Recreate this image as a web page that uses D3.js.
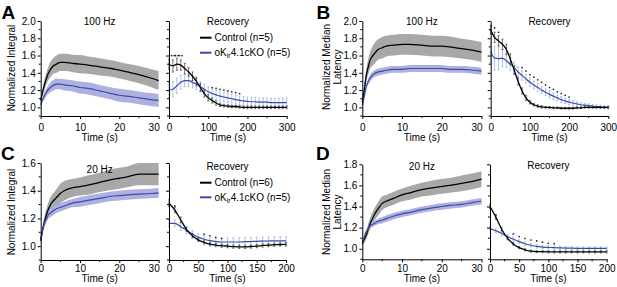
<!DOCTYPE html>
<html><head><meta charset="utf-8">
<script src="https://cdn.jsdelivr.net/npm/d3@7"></script>
<style>
body{margin:0;background:#fff}
svg{display:block}
text{font-family:"Liberation Sans",Arial,Helvetica,sans-serif;fill:#000}
</style>
</head><body>
<svg id="chart" width="617" height="287"></svg>
<script>
// ---------------- DATA ----------------
const stimTime = [0,0.5,1,1.5,2,2.5,3,4,5,6,8,10,12,15,18,20,22,25,28,30];
const rec300 = [0,10,20,30,40,50,60,70,80,90,100,110,120,130,140,150,160,170,180,190,200,210,220,230,240,250,260,270,280,290,300];
const rec200 = [0,10,20,30,40,50,60,70,80,90,100,110,120,130,140,150,160,170,180,190,200];

const seriesNames = ["Control (n=5)", "oKir4.1cKO (n=5)"];
const seriesNamesC = ["Control (n=6)", "oKir4.1cKO (n=5)"];
const panelLetters = ["A","B","C","D"];
const stimTitles = ["100 Hz","100 Hz","20 Hz","20 Hz"];
const recTitle = "Recovery";
const yLabels = [["Normalized Integral"],["Normalized Median","Latency"],["Normalized Integral"],["Normalized Median","Latency"]];
const xLabel = "Time (s)";

// Panel A - 100 Hz integral
const aCtrlMean = [1.08,1.18,1.27,1.34,1.40,1.44,1.47,1.50,1.52,1.52,1.51,1.50,1.49,1.47,1.45,1.43,1.41,1.38,1.34,1.31];
const aCtrlErr  = [0.02,0.04,0.06,0.07,0.08,0.09,0.09,0.10,0.10,0.10,0.10,0.105,0.10,0.10,0.095,0.095,0.095,0.10,0.105,0.11];
const aKoMean   = [1.03,1.09,1.14,1.18,1.21,1.23,1.25,1.27,1.27,1.26,1.25,1.23,1.22,1.19,1.16,1.14,1.13,1.11,1.09,1.08];
const aKoErr    = [0.02,0.03,0.04,0.045,0.05,0.055,0.06,0.06,0.06,0.065,0.065,0.07,0.07,0.07,0.07,0.075,0.075,0.075,0.075,0.075];
const aRecCtrlMean = [1.50,1.48,1.50,1.49,1.45,1.41,1.36,1.30,1.23,1.16,1.11,1.08,1.05,1.03,1.02,1.015,1.01,1.01,1.005,1.0,1.0,1.0,1.0,1.0,1.0,1.0,1.0,1.0,1.0,1.0,1.0];
const aRecCtrlErr  = [0.06,0.07,0.07,0.06,0.06,0.05,0.05,0.05,0.045,0.04,0.035,0.03,0.025,0.02,0.015,0.015,0.015,0.015,0.015,0.015,0.015,0.015,0.015,0.015,0.015,0.015,0.015,0.015,0.015,0.015,0.015];
const aRecKoMean   = [1.20,1.21,1.25,1.29,1.31,1.31,1.29,1.27,1.24,1.21,1.18,1.16,1.145,1.13,1.12,1.11,1.10,1.09,1.08,1.075,1.07,1.065,1.065,1.06,1.06,1.06,1.055,1.055,1.055,1.055,1.055];
const aRecKoErr    = [0.09,0.09,0.09,0.08,0.07,0.07,0.065,0.065,0.06,0.06,0.06,0.06,0.055,0.055,0.055,0.055,0.05,0.05,0.05,0.05,0.05,0.05,0.05,0.05,0.05,0.05,0.05,0.05,0.05,0.05,0.05];
const aSigT = [10,20,30,110,120,130,140,150,160,170,180];
const aSigV = [1.60,1.60,1.60,1.23,1.22,1.21,1.20,1.19,1.18,1.17,1.16];
const aSigN = [2,2,2,1,1,1,1,1,1,1,1];

// Panel B - 100 Hz median latency
const bCtrlMean = [1.06,1.20,1.37,1.47,1.55,1.59,1.62,1.67,1.69,1.71,1.72,1.73,1.73,1.72,1.71,1.71,1.70,1.68,1.66,1.64];
const bCtrlErr  = [0.03,0.05,0.07,0.09,0.10,0.11,0.12,0.12,0.125,0.12,0.12,0.12,0.12,0.12,0.12,0.12,0.12,0.115,0.115,0.115];
const bKoMean   = [1.02,1.13,1.24,1.30,1.34,1.37,1.39,1.41,1.42,1.43,1.44,1.44,1.45,1.45,1.45,1.45,1.44,1.44,1.43,1.42];
const bKoErr    = [0.02,0.025,0.03,0.035,0.04,0.04,0.04,0.04,0.04,0.04,0.04,0.04,0.04,0.04,0.04,0.04,0.04,0.04,0.04,0.04];
const bRecCtrlMean = [1.90,1.81,1.77,1.73,1.67,1.56,1.43,1.30,1.19,1.11,1.06,1.03,1.015,1.005,1.0,1.0,0.995,0.995,0.99,0.99,0.99,0.99,0.995,0.995,1.0,1.0,1.0,1.0,1.0,1.0,1.0];
const bRecCtrlErr  = [0.05,0.06,0.06,0.06,0.06,0.06,0.05,0.04,0.035,0.03,0.02,0.015,0.015,0.015,0.01,0.01,0.01,0.01,0.01,0.01,0.01,0.01,0.01,0.01,0.01,0.01,0.01,0.01,0.01,0.01,0.01];
const bRecKoMean   = [1.64,1.57,1.565,1.57,1.54,1.50,1.46,1.41,1.37,1.33,1.29,1.26,1.23,1.20,1.175,1.15,1.13,1.11,1.09,1.075,1.06,1.05,1.04,1.03,1.025,1.02,1.015,1.01,1.005,1.0,1.0];
const bRecKoErr    = [0.12,0.14,0.13,0.10,0.08,0.07,0.065,0.06,0.055,0.05,0.05,0.045,0.045,0.04,0.04,0.04,0.035,0.035,0.035,0.03,0.03,0.03,0.025,0.025,0.02,0.02,0.02,0.02,0.02,0.02,0.02];
const bSigT = [10,20,80,90,100,110,120,130,140,150,160,170,180,190,200];
const bSigV = [1.92,1.87,1.46,1.42,1.38,1.35,1.32,1.29,1.26,1.23,1.21,1.18,1.16,1.14,1.12];
const bSigN = [1,1,1,1,1,1,1,1,1,1,1,1,1,1,1];

// Panel C - 20 Hz integral
const cCtrlMean = [1.04,1.12,1.18,1.23,1.27,1.30,1.32,1.35,1.38,1.40,1.42,1.43,1.44,1.46,1.48,1.49,1.50,1.52,1.52,1.52];
const cCtrlErr  = [0.02,0.03,0.04,0.045,0.05,0.055,0.055,0.06,0.07,0.07,0.065,0.065,0.07,0.07,0.075,0.075,0.075,0.08,0.08,0.08];
const cKoMean   = [1.04,1.12,1.17,1.20,1.23,1.24,1.25,1.27,1.28,1.29,1.31,1.32,1.33,1.345,1.36,1.365,1.37,1.375,1.38,1.385];
const cKoErr    = [0.015,0.02,0.025,0.025,0.03,0.03,0.03,0.03,0.03,0.03,0.03,0.035,0.035,0.035,0.035,0.035,0.035,0.035,0.035,0.035];
const cRecCtrlMean = [1.31,1.26,1.19,1.12,1.075,1.045,1.027,1.015,1.008,1.003,1.0,0.997,0.995,0.995,0.997,1.0,1.005,1.008,1.01,1.012,1.013];
const cRecCtrlErr  = [0.025,0.02,0.02,0.015,0.015,0.012,0.012,0.012,0.012,0.012,0.012,0.012,0.012,0.012,0.012,0.012,0.012,0.012,0.012,0.012,0.012];
const cRecKoMean   = [1.165,1.165,1.14,1.115,1.087,1.065,1.05,1.04,1.033,1.03,1.03,1.03,1.03,1.032,1.033,1.035,1.036,1.037,1.038,1.038,1.038];
const cRecKoErr    = [0.025,0.025,0.025,0.025,0.025,0.025,0.025,0.025,0.025,0.025,0.03,0.03,0.03,0.03,0.03,0.03,0.03,0.03,0.03,0.03,0.03];
const cSigT = [10,60,70,80,90];
const cSigV = [1.29,1.087,1.075,1.064,1.056];
const cSigN = [1,1,1,1,1];

// Panel D - 20 Hz median latency
const dCtrlMean = [1.05,1.09,1.13,1.19,1.24,1.28,1.32,1.38,1.43,1.45,1.48,1.51,1.53,1.56,1.58,1.59,1.60,1.62,1.64,1.66];
const dCtrlErr  = [0.02,0.03,0.04,0.05,0.055,0.06,0.06,0.065,0.065,0.06,0.06,0.06,0.065,0.065,0.07,0.07,0.07,0.075,0.075,0.075];
const dKoMean   = [1.05,1.11,1.16,1.19,1.22,1.23,1.24,1.26,1.27,1.285,1.31,1.33,1.345,1.37,1.39,1.40,1.41,1.42,1.44,1.45];
const dKoErr    = [0.015,0.02,0.02,0.025,0.025,0.025,0.025,0.025,0.03,0.03,0.03,0.03,0.03,0.03,0.03,0.03,0.03,0.03,0.03,0.03];
const dRecCtrlMean = [1.40,1.30,1.185,1.10,1.045,1.01,0.99,0.978,0.973,0.972,0.971,0.97,0.97,0.97,0.97,0.97,0.97,0.97,0.97,0.97,0.97];
const dRecCtrlErr  = [0.02,0.02,0.015,0.015,0.012,0.01,0.01,0.01,0.01,0.01,0.01,0.01,0.01,0.01,0.01,0.01,0.01,0.01,0.01,0.01,0.01];
const dRecKoMean   = [1.19,1.17,1.147,1.115,1.09,1.067,1.047,1.033,1.022,1.016,1.013,1.01,1.008,1.006,1.005,1.004,1.003,1.003,1.003,1.003,1.003];
const dRecKoErr    = [0.02,0.02,0.02,0.02,0.02,0.018,0.018,0.016,0.016,0.015,0.015,0.015,0.015,0.015,0.015,0.015,0.015,0.015,0.015,0.015,0.015];
const dSigT = [10,40,50,60,70,80,90,100,110];
const dSigV = [1.32,1.14,1.115,1.097,1.083,1.074,1.062,1.052,1.048];
const dSigN = [1,1,1,1,1,1,1,1,1];

const stimXTicks = [0,10,20,30];
const stimXMinor = [5,15,25];
const rec300Ticks = [0,100,200,300];
const rec300Minor = [50,150,250];
const rec200Ticks = [0,50,100,150,200];
const rec200Minor = [25,75,125,175];
const yTicksAB = [1.0,1.2,1.4,1.6,1.8,2.0];
const yMinorAB = [0.9,1.1,1.3,1.5,1.7,1.9];
const yTicksC = [1.0,1.2,1.4,1.6];
const yMinorC = [0.9,1.1,1.3,1.5];
const yTicksD = [1.0,1.2,1.4,1.6,1.8];
const yMinorD = [0.9,1.1,1.3,1.5,1.7];

// ---------------- STYLE / LAYOUT ----------------
const COL = {
  ctrl: "#000000", ctrlBand: "#a8a8a8", ctrlBar: "#3a3a3a",
  ko: "#3b4ca5", koBand: "#a9acdf", koBar: "#8eaae0", sig: "#222"
};
const svg = d3.select("#chart");
const FS = 10;

const panels = [
  {letter:0, lx:[40.7,158.6], rx:[169,286.7], y:[116,21], yd:[0.9,2.0], recDom:[0,300],
   stim:[aCtrlMean,aCtrlErr,aKoMean,aKoErr], rec:[rec300,aRecCtrlMean,aRecCtrlErr,aRecKoMean,aRecKoErr],
   sig:[aSigT,aSigV,aSigN], yT:yTicksAB, yM:yMinorAB, rT:rec300Ticks, rM:rec300Minor,
   legend:seriesNames, legY:[37.7,52.7], letterPos:[1.5,18.5], titleY:25, recTitleY:25, xLabY:140.5, pad:4.4, ylabX:[11.8], ylabY:68},
  {letter:1, lx:[362.3,481.5], rx:[490.7,608.3], y:[116,21], yd:[0.9,2.0], recDom:[0,300],
   stim:[bCtrlMean,bCtrlErr,bKoMean,bKoErr], rec:[rec300,bRecCtrlMean,bRecCtrlErr,bRecKoMean,bRecKoErr],
   sig:[bSigT,bSigV,bSigN], yT:yTicksAB, yM:yMinorAB, rT:rec300Ticks, rM:rec300Minor,
   legend:null, letterPos:[316.5,18.5], titleY:25, recTitleY:25, xLabY:140.5, pad:4.4, ylabX:[326,337.5], ylabY:67},
  {letter:2, lx:[40.7,158.6], rx:[169,286], y:[260,163], yd:[0.9,1.6], recDom:[0,200],
   stim:[cCtrlMean,cCtrlErr,cKoMean,cKoErr], rec:[rec200,cRecCtrlMean,cRecCtrlErr,cRecKoMean,cRecKoErr],
   sig:[cSigT,cSigV,cSigN], yT:yTicksC, yM:yMinorC, rT:rec200Ticks, rM:rec200Minor,
   legend:seriesNamesC, legY:[182.7,197.3], letterPos:[1,160], titleY:173, recTitleY:169.5, xLabY:282.3, pad:2, ylabX:[11.8], ylabY:212},
  {letter:3, lx:[362.3,481.5], rx:[490,606.7], y:[259.3,164.3], yd:[0.9,1.8], recDom:[0,200],
   stim:[dCtrlMean,dCtrlErr,dKoMean,dKoErr], rec:[rec200,dRecCtrlMean,dRecCtrlErr,dRecKoMean,dRecKoErr],
   sig:[dSigT,dSigV,dSigN], yT:yTicksD, yM:yMinorD, rT:rec200Ticks, rM:rec200Minor,
   legend:null, letterPos:[316,160], titleY:169.5, recTitleY:169, xLabY:282.3, pad:2.7, ylabX:[326,337.5], ylabY:212}
];

function styleAxis(g){
  g.selectAll("path.domain").attr("stroke","#000").attr("stroke-width",1);
  g.selectAll(".tick line").attr("stroke","#000").attr("stroke-width",1);
  g.selectAll("text").attr("font-size",FS).attr("font-family",'"Liberation Sans",Arial,sans-serif').attr("fill","#000");
}

function drawAxes(x, y, xT, xM, yT, yM, showY, pad, endAnchorLast){
  const x0 = x.range()[0], yb = y.range()[0];
  const gx = svg.append("g").attr("transform",`translate(0,${yb})`)
    .call(d3.axisBottom(x).tickValues(xT).tickSize(3).tickSizeOuter(0).tickPadding(pad).tickFormat(d3.format("d")));
  styleAxis(gx);
  if (endAnchorLast) {
    const last = xT[xT.length-1];
    gx.selectAll(".tick").filter(d => d === last).select("text").attr("text-anchor","end").attr("x",0.6);
  }
  gx.selectAll(".minor").data(xM).enter().append("line")
    .attr("x1",d=>x(d)).attr("x2",d=>x(d)).attr("y1",0).attr("y2",2).attr("stroke","#000");
  const gy = svg.append("g").attr("transform",`translate(${x0},0)`)
    .call(d3.axisLeft(y).tickValues(yT).tickSize(3).tickSizeOuter(0).tickPadding(2)
      .tickFormat(showY ? d3.format(".1f") : () => ""));
  styleAxis(gy);
  gy.selectAll(".minor").data(yM).enter().append("line")
    .attr("x1",0).attr("x2",-2).attr("y1",d=>y(d)).attr("y2",d=>y(d)).attr("stroke","#000");
}

panels.forEach(p => {
  const y = d3.scaleLinear().domain(p.yd).range(p.y);
  const xl = d3.scaleLinear().domain([0,30]).range(p.lx);
  const xr = d3.scaleLinear().domain(p.recDom).range(p.rx);
  const [cm, ce, km, ke] = p.stim;

  // --- stimulation panel ---
  const band = (m, e) => d3.area().x((d,i)=>xl(stimTime[i])).y0((d,i)=>y(m[i]-e[i])).y1((d,i)=>y(m[i]+e[i])).curve(d3.curveMonotoneX);
  const line = (m, xs, ts) => d3.line().x((d,i)=>xs(ts[i])).y((d,i)=>y(m[i])).curve(d3.curveMonotoneX);
  svg.append("path").attr("d", band(cm,ce)(cm)).attr("fill",COL.ctrlBand);
  svg.append("path").attr("d", band(km,ke)(km)).attr("fill",COL.koBand).attr("fill-opacity",0.95);
  svg.append("path").attr("d", line(cm, xl, stimTime)(cm)).attr("fill","none").attr("stroke",COL.ctrl).attr("stroke-width",1.3);
  svg.append("path").attr("d", line(km, xl, stimTime)(km)).attr("fill","none").attr("stroke",COL.ko).attr("stroke-width",1.2);
  drawAxes(xl, y, stimXTicks, stimXMinor, p.yT, p.yM, true, p.pad, true);

  // --- recovery panel ---
  const [rt, rcm, rce, rkm, rke] = p.rec;
  const bars = (m, e, col) => {
    const g = svg.append("g").attr("stroke",col).attr("stroke-width",0.7);
    rt.forEach((t,i) => {
      const xx = xr(t);
      g.append("line").attr("x1",xx).attr("x2",xx).attr("y1",y(m[i]-e[i])).attr("y2",y(m[i]+e[i]));
      g.append("line").attr("x1",xx-1).attr("x2",xx+1).attr("y1",y(m[i]-e[i])).attr("y2",y(m[i]-e[i]));
      g.append("line").attr("x1",xx-1).attr("x2",xx+1).attr("y1",y(m[i]+e[i])).attr("y2",y(m[i]+e[i]));
    });
  };
  bars(rkm, rke, COL.koBar);
  bars(rcm, rce, COL.ctrlBar);
  svg.append("path").attr("d", line(rkm, xr, rt)(rkm)).attr("fill","none").attr("stroke",COL.ko).attr("stroke-width",1.2);
  svg.append("path").attr("d", line(rcm, xr, rt)(rcm)).attr("fill","none").attr("stroke",COL.ctrl).attr("stroke-width",1.3);
  const [st, sv, sn] = p.sig;
  st.forEach((t,i) => {
    const offs = sn[i] === 2 ? [-1.3,1.3] : [0];
    offs.forEach(o => svg.append("circle").attr("cx",xr(t)+o).attr("cy",y(sv[i])).attr("r",0.85).attr("fill",COL.sig));
  });
  drawAxes(xr, y, p.rT, p.rM, p.yT, p.yM, false, p.pad, false);

  // --- texts ---
  svg.append("text").attr("x",p.letterPos[0]).attr("y",p.letterPos[1]).text(panelLetters[p.letter])
    .attr("font-size",19).attr("font-weight","bold");
  svg.append("text").attr("x",(p.lx[0]+p.lx[1])/2).attr("y",p.titleY).attr("text-anchor","middle").attr("font-size",FS).text(stimTitles[p.letter]);
  svg.append("text").attr("x",(p.rx[0]+p.rx[1])/2).attr("y",p.recTitleY).attr("text-anchor","middle").attr("font-size",FS).text(recTitle);
  svg.append("text").attr("x",(p.lx[0]+p.lx[1])/2).attr("y",p.xLabY).attr("text-anchor","middle").attr("font-size",FS).text(xLabel);
  svg.append("text").attr("x",(p.rx[0]+p.rx[1])/2).attr("y",p.xLabY).attr("text-anchor","middle").attr("font-size",FS).text(xLabel);
  yLabels[p.letter].forEach((lab, j) => {
    svg.append("text").attr("transform",`translate(${p.ylabX[j]+3.5},${p.ylabY}) rotate(-90)`)
      .attr("text-anchor","middle").attr("font-size",FS).text(lab);
  });

  // --- legend ---
  if (p.legend) {
    const lx0 = 200, lx1 = 211.5, tx = 214.5;
    [[COL.ctrl,0],[COL.ko,1]].forEach(([c,j]) => {
      svg.append("line").attr("x1",lx0).attr("x2",lx1).attr("y1",p.legY[j]).attr("y2",p.legY[j]).attr("stroke",c).attr("stroke-width",2);
    });
    svg.append("text").attr("x",tx).attr("y",p.legY[0]+3.5).attr("font-size",FS).text(p.legend[0]);
    const t2 = svg.append("text").attr("x",tx).attr("y",p.legY[1]+3.5).attr("font-size",FS);
    const nm = p.legend[1]; // "oKir4.1cKO (n=5)"
    t2.append("tspan").text(nm.slice(0,2));
    t2.append("tspan").attr("font-size",7).attr("dy",2).text(nm.slice(2,4));
    t2.append("tspan").attr("dy",-2).text(nm.slice(4));
  }
});
</script>
</body></html>
